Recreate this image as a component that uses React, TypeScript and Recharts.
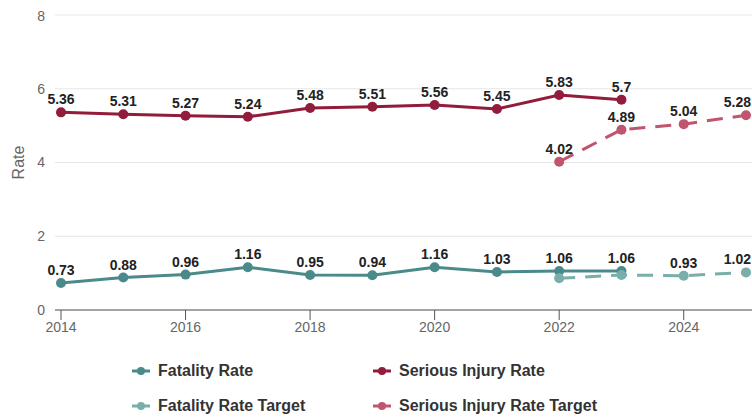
import React from 'react';
import { LineChart, Line, XAxis, YAxis, CartesianGrid, Legend, LabelList, Label } from 'recharts';

const years = [2014, 2015, 2016, 2017, 2018, 2019, 2020, 2021, 2022, 2023, 2024, 2025];
const fatalityRate = [0.73, 0.88, 0.96, 1.16, 0.95, 0.94, 1.16, 1.03, 1.06, 1.06, null, null];
const seriousInjuryRate = [5.36, 5.31, 5.27, 5.24, 5.48, 5.51, 5.56, 5.45, 5.83, 5.7, null, null];
const fatalityRateTarget = [null, null, null, null, null, null, null, null, 0.86, 0.95, 0.93, 1.02];
const seriousInjuryRateTarget = [null, null, null, null, null, null, null, null, 4.02, 4.89, 5.04, 5.28];
const xTicks = [2014, 2016, 2018, 2020, 2022, 2024];
const yTicks = [0, 2, 4, 6, 8];

const data = years.map((y, i) => ({
  year: y,
  fatality: fatalityRate[i],
  serious: seriousInjuryRate[i],
  fatalityTarget: fatalityRateTarget[i],
  seriousTarget: seriousInjuryRateTarget[i],
}));

const CHART_W = 744;
const C_FAT = '#4a8a8b';
const C_FAT_T = '#7aaeaa';
const C_SER = '#921c3c';
const C_SER_T = '#c0556f';
const FONT = '"Liberation Sans", Arial, Helvetica, sans-serif';

const seriesMeta = [
  { key: 'fatality', name: 'Fatality Rate', color: C_FAT },
  { key: 'serious', name: 'Serious Injury Rate', color: C_SER },
  { key: 'fatalityTarget', name: 'Fatality Rate Target', color: C_FAT_T },
  { key: 'seriousTarget', name: 'Serious Injury Rate Target', color: C_SER_T },
];

const renderLabel = (hideWhenActual: boolean) => (props: any) => {
  const { x, y, value, index } = props;
  if (value == null) return null;
  if (hideWhenActual && fatalityRate[index] != null) return null;
  const nearEdge = x + 15 > CHART_W;
  return (
    <text
      x={nearEdge ? CHART_W - 1 : x}
      y={y - 8}
      textAnchor={nearEdge ? 'end' : 'middle'}
      fontFamily={FONT}
      fontSize={14}
      fontWeight="bold"
      fill="#222"
    >
      {String(value)}
    </text>
  );
};

const LegendContent = () => {
  const positions = [
    { left: 124, top: 26 },
    { left: 365, top: 26 },
    { left: 124, top: 61 },
    { left: 365, top: 61 },
  ];
  return (
    <div style={{ position: 'relative', width: CHART_W, height: 80 }}>
      {seriesMeta.map((s, i) => (
        <div
          key={s.key}
          style={{
            position: 'absolute',
            left: positions[i].left,
            top: positions[i].top,
            height: 20,
            display: 'flex',
            alignItems: 'center',
            fontFamily: FONT,
            fontSize: 16,
            fontWeight: 'bold',
            color: '#333',
            whiteSpace: 'nowrap',
          }}
        >
          <svg width={18} height={10} style={{ marginRight: 8 }}>
            <line x1={0} y1={5} x2={18} y2={5} stroke={s.color} strokeWidth={3} />
            <circle cx={9} cy={5} r={4} fill={s.color} />
          </svg>
          {s.name}
        </div>
      ))}
    </div>
  );
};

export default function App() {
  return (
    <div
      style={{
        position: 'fixed',
        left: 0,
        top: 0,
        width: 752,
        height: 417,
        overflow: 'hidden',
        background: '#fff',
      }}
    >
      <div style={{ position: 'absolute', left: 8, top: 8, width: CHART_W, height: 409 }}>
        <LineChart
          width={CHART_W}
          height={409}
          data={data}
          margin={{ top: 7, right: 0, left: 0, bottom: 2 }}
        >
          <CartesianGrid vertical={false} stroke="#e6e6e6" />
          <XAxis
            dataKey="year"
            type="number"
            domain={[2014, 2025]}
            ticks={xTicks}
            padding={{ left: 6, right: 6 }}
            height={25}
            tickSize={10}
            tickMargin={2}
            axisLine={{ stroke: '#555' }}
            tickLine={{ stroke: '#555' }}
            tick={{ fill: '#666', fontSize: 14, fontFamily: FONT }}
            interval={0}
          />
          <YAxis
            domain={[0, 8]}
            ticks={yTicks}
            width={47}
            axisLine={false}
            tickLine={false}
            tickSize={8}
            tickMargin={2}
            tick={{ fill: '#666', fontSize: 14, fontFamily: FONT }}
          >
            <Label
              content={(p: any) => {
                const vb = p.viewBox || {};
                const cx = 10;
                const cy = (vb.y ?? 0) + (vb.height ?? 0) / 2;
                return (
                  <text
                    x={cx}
                    y={cy}
                    transform={`rotate(-90 ${cx} ${cy})`}
                    textAnchor="middle"
                    dominantBaseline="central"
                    fill="#666"
                    fontSize={16}
                    fontFamily={FONT}
                  >
                    Rate
                  </text>
                );
              }}
            />
          </YAxis>
          <Legend verticalAlign="bottom" content={<LegendContent />} wrapperStyle={{ left: 0, width: CHART_W }} />
          <Line
            dataKey="fatality"
            name="Fatality Rate"
            stroke={C_FAT}
            strokeWidth={3}
            dot={{ r: 5, fill: C_FAT, stroke: C_FAT, strokeWidth: 0 }}
            isAnimationActive={false}
            connectNulls={false}
          >
            <LabelList dataKey="fatality" content={renderLabel(false)} />
          </Line>
          <Line
            dataKey="serious"
            name="Serious Injury Rate"
            stroke={C_SER}
            strokeWidth={3}
            dot={{ r: 5, fill: C_SER, stroke: C_SER, strokeWidth: 0 }}
            isAnimationActive={false}
          >
            <LabelList dataKey="serious" content={renderLabel(false)} />
          </Line>
          <Line
            dataKey="fatalityTarget"
            name="Fatality Rate Target"
            stroke={C_FAT_T}
            strokeWidth={3}
            strokeDasharray="16 10"
            dot={{ r: 5, fill: C_FAT_T, stroke: C_FAT_T, strokeWidth: 0 }}
            isAnimationActive={false}
          >
            <LabelList dataKey="fatalityTarget" content={renderLabel(true)} />
          </Line>
          <Line
            dataKey="seriousTarget"
            name="Serious Injury Rate Target"
            stroke={C_SER_T}
            strokeWidth={3}
            strokeDasharray="16 10"
            dot={{ r: 5, fill: C_SER_T, stroke: C_SER_T, strokeWidth: 0 }}
            isAnimationActive={false}
          >
            <LabelList dataKey="seriousTarget" content={renderLabel(false)} />
          </Line>
        </LineChart>
      </div>
    </div>
  );
}
